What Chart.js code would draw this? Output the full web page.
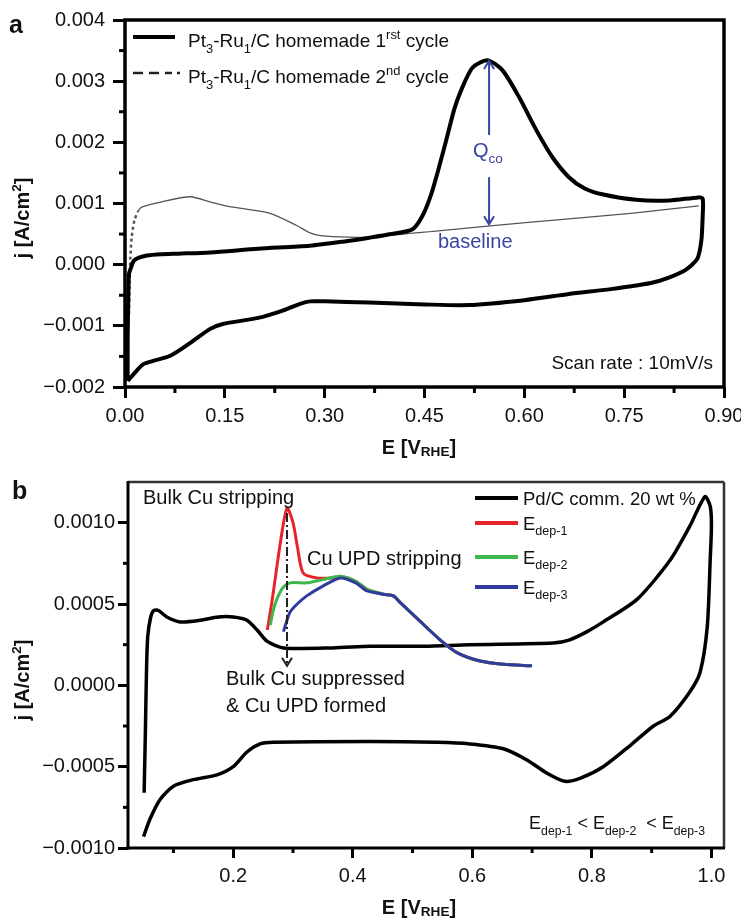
<!DOCTYPE html>
<html>
<head>
<meta charset="utf-8">
<script src="https://cdn.jsdelivr.net/npm/chart.js@4.4.1/dist/chart.umd.min.js"></script>
<style>
    body { margin: 0; background: #fff; }
    .wrap { position: relative; width: 741px; height: 920px; }
    canvas { position: absolute; left: 0; }
    #chartA { top: 0; }
    #chartB { top: 460px; }
</style>
</head>
<body>
<div class="wrap">
    <canvas id="chartA" width="741" height="460"></canvas>
    <canvas id="chartB" width="741" height="460"></canvas>
</div>
<script>
// ---- panel a : CO stripping on Pt3-Ru1/C ----
const cyc1E = [0.004, 0.004, 0.005, 0.006, 0.009, 0.013, 0.020, 0.033, 0.055, 0.080, 0.128, 0.200, 0.278, 0.330, 0.367,
    0.400, 0.432, 0.447, 0.460, 0.472, 0.483, 0.495, 0.505, 0.522, 0.545, 0.567, 0.592, 0.618, 0.642, 0.667, 0.690,
    0.717, 0.768, 0.818, 0.862, 0.868, 0.868, 0.866, 0.860, 0.843, 0.815, 0.790, 0.730, 0.667, 0.600, 0.517, 0.450,
    0.367, 0.300, 0.278, 0.263, 0.237, 0.200, 0.147, 0.128, 0.098, 0.068, 0.040, 0.027, 0.012, 0.004];
const cyc1J = [-0.00190, -0.00120, -0.00050, -0.00015, -0.00005, 0.00006, 0.00011, 0.00015, 0.00017, 0.00018, 0.00020,
    0.00026, 0.00031, 0.00038, 0.00044, 0.00050, 0.00058, 0.00080, 0.00115, 0.00160, 0.00205, 0.00255, 0.00285, 0.00322,
    0.00334, 0.00318, 0.00274, 0.00220, 0.00176, 0.00143, 0.00125, 0.00115, 0.00106, 0.00105, 0.00110, 0.00108, 0.00080,
    0.00040, 0.00010, -0.00008, -0.00022, -0.00030, -0.00040, -0.00048, -0.00058, -0.00066, -0.00065, -0.00062, -0.00060,
    -0.00060, -0.00064, -0.00075, -0.00087, -0.00097, -0.00105, -0.00128, -0.00149, -0.00158, -0.00163, -0.00180, -0.00190];

const cyc2E = [0.006, 0.007, 0.008, 0.010, 0.014, 0.020, 0.025, 0.052, 0.098, 0.130, 0.162, 0.218, 0.258, 0.278, 0.297,
    0.338, 0.367, 0.467, 0.545, 0.667, 0.760, 0.862];
const cyc2J = [-0.00080, -0.00030, 0.00010, 0.00044, 0.00072, 0.00088, 0.00094, 0.00102, 0.00111, 0.00102, 0.00094,
    0.00084, 0.00064, 0.00052, 0.00047, 0.00045, 0.00045, 0.00055, 0.00063, 0.00075, 0.00084, 0.00096];

const xTicksA = [0, 0.15, 0.30, 0.45, 0.60, 0.75, 0.90];
const yTicksA = [-0.002, -0.001, 0, 0.001, 0.002, 0.003, 0.004];
const xMinorA = [0.075, 0.225, 0.375, 0.525, 0.675, 0.825];
const yMinorA = [-0.0015, -0.0005, 0.0005, 0.0015, 0.0025, 0.0035];

// ---- panel b : Cu stripping on Pd/C ----
const pdE = [0.051, 0.053, 0.055, 0.057, 0.062, 0.067, 0.075, 0.089, 0.111, 0.145, 0.175, 0.200, 0.223, 0.240, 0.257,
    0.284, 0.367, 0.429, 0.520, 0.596, 0.735, 0.763, 0.792, 0.819, 0.876, 0.931, 0.964, 0.989, 0.998, 1.000, 0.998,
    0.993, 0.981, 0.964, 0.931, 0.903, 0.864, 0.819, 0.781, 0.755, 0.725, 0.692, 0.652, 0.596, 0.541, 0.429, 0.267,
    0.245, 0.223, 0.200, 0.173, 0.133, 0.100, 0.078, 0.061, 0.050];
const pdJ = [-0.00066, -0.00030, 0.00010, 0.00030, 0.00042, 0.00046, 0.00046, 0.00042, 0.00039, 0.00040, 0.00042, 0.00042,
    0.00040, 0.00034, 0.00027, 0.00023, 0.00023, 0.00024, 0.00024, 0.00025, 0.00026, 0.00028, 0.00033, 0.00039, 0.00053,
    0.00077, 0.00098, 0.00116, 0.00110, 0.00098, 0.00078, 0.00036, 0.00008, -0.00004, -0.00019, -0.00025, -0.00037,
    -0.00050, -0.00057, -0.00059, -0.00054, -0.00046, -0.00039, -0.00036, -0.00035, -0.000345, -0.00035, -0.00036,
    -0.00041, -0.00050, -0.00055, -0.00058, -0.00062, -0.00070, -0.00082, -0.00093];

const dep1E = [0.257, 0.262, 0.267, 0.279, 0.290, 0.300, 0.307, 0.317, 0.340, 0.367, 0.379, 0.405, 0.424, 0.451, 0.468,
    0.479, 0.508, 0.546, 0.575, 0.613, 0.652, 0.697];
const dep1J = [0.00034, 0.00045, 0.00057, 0.00088, 0.00109, 0.00100, 0.00086, 0.00069, 0.00066, 0.00066, 0.00067, 0.00064,
    0.00059, 0.00056, 0.00055, 0.00051, 0.00041, 0.00028, 0.00020, 0.00015, 0.00013, 0.00012];

const dep2E = [0.262, 0.267, 0.273, 0.283, 0.295, 0.323, 0.350, 0.379, 0.405, 0.424, 0.451, 0.468, 0.479, 0.508, 0.546,
    0.575, 0.613, 0.652, 0.698];
const dep2J = [0.00037, 0.00046, 0.00053, 0.00060, 0.00063, 0.00063, 0.00065, 0.00067, 0.00064, 0.00059, 0.00056, 0.00055,
    0.00051, 0.00041, 0.00028, 0.00020, 0.00015, 0.00013, 0.00012];

const dep3E = [0.284, 0.290, 0.295, 0.307, 0.323, 0.350, 0.379, 0.405, 0.424, 0.451, 0.468, 0.479, 0.508, 0.546, 0.575,
    0.613, 0.652, 0.700];
const dep3J = [0.00033, 0.00040, 0.00045, 0.00050, 0.00055, 0.00061, 0.00066, 0.00063, 0.00058, 0.00056, 0.00055, 0.00051,
    0.00041, 0.00028, 0.00020, 0.00015, 0.00013, 0.00012];

const xTicksB = [0.2, 0.4, 0.6, 0.8, 1.0];
const yTicksB = [-0.0010, -0.0005, 0, 0.0005, 0.0010];
const xMinorB = [0.1, 0.3, 0.5, 0.7, 0.9];
const yMinorB = [-0.00075, -0.00025, 0.00025, 0.00075];

const FONT = "'Liberation Sans', Arial, Helvetica, sans-serif";
const INK = "#111";
const BLUE = "#3a45a3";

const pts = (xs, ys) => xs.map((x, i) => ({ x: x, y: ys[i] }));
const minus = s => s.replace("-", "\u2212");

// text with sub/superscripts; y is the middle of the capitals
// kinds: "" normal, "sub", "sup", "lsub" (subscript only slightly lowered)
function drawRich(ctx, x, y, parts, size, opts = {}) {
    const weight = opts.bold ? "bold " : "";
    const small = size * 0.68;
    let w = 0;
    parts.forEach(([t, k]) => {
        ctx.font = weight + (k ? small : size) + "px " + FONT;
        w += ctx.measureText(t).width;
    });
    let cx = opts.align === "center" ? x - w / 2 : opts.align === "right" ? x - w : x;
    const base = y + size * 0.36;
    ctx.save();
    ctx.fillStyle = opts.color || INK;
    ctx.textAlign = "left";
    ctx.textBaseline = "alphabetic";
    parts.forEach(([t, k]) => {
        ctx.font = weight + (k ? small : size) + "px " + FONT;
        const dy = k === "sub" ? size * 0.3 : k === "lsub" ? size * 0.1 : k === "sup" ? -size * 0.42 : 0;
        ctx.fillText(t, cx, base + dy);
        cx += ctx.measureText(t).width;
    });
    ctx.restore();
}

function line(ctx, x1, y1, x2, y2, color, width, dash) {
    ctx.save();
    ctx.strokeStyle = color;
    ctx.lineWidth = width;
    ctx.setLineDash(dash || []);
    ctx.beginPath();
    ctx.moveTo(x1, y1);
    ctx.lineTo(x2, y2);
    ctx.stroke();
    ctx.restore();
}

function minorTicks(chart, xs, ys, len, width) {
    const { ctx, chartArea: a } = chart;
    xs.forEach(v => {
        const p = chart.scales.x.getPixelForValue(v);
        line(ctx, p, a.bottom, p, a.bottom + len, "#000", width);
    });
    ys.forEach(v => {
        const p = chart.scales.y.getPixelForValue(v);
        line(ctx, a.left - len, p, a.left, p, "#000", width);
    });
}

function axisTitles(chart, yCenter) {
    const { ctx } = chart;
    ctx.save();
    ctx.translate(22, yCenter);
    ctx.rotate(-Math.PI / 2);
    drawRich(ctx, 0, 0, [["j [A/cm", ""], ["2", "sup"], ["]", ""]], 20, { bold: true, align: "center" });
    ctx.restore();
    drawRich(ctx, 419, 447, [["E [V", ""], ["RHE", "lsub"], ["]", ""]], 20, { bold: true, align: "center" });
}

function arrowHead(ctx, x, y, dir, color) {
    ctx.save();
    ctx.strokeStyle = color;
    ctx.lineWidth = 2;
    ctx.beginPath();
    ctx.moveTo(x - 5, y - dir * 8);
    ctx.lineTo(x, y);
    ctx.lineTo(x + 5, y - dir * 8);
    ctx.stroke();
    ctx.restore();
}

const baseScale = (min, max, ticks, fmt, tickLen, pad) => ({
    type: "linear",
    min: min,
    max: max,
    afterBuildTicks: s => { s.ticks = ticks.map(v => ({ value: v })); },
    ticks: { callback: fmt, color: INK, font: { family: FONT, size: 20 }, padding: pad },
    grid: { drawOnChartArea: false, tickLength: tickLen, tickWidth: 3, tickColor: "#000" },
    border: { display: false }
});

// ------------------------------------------------------------ chart a
const decorA = {
    id: "decorA",
    beforeDraw(chart) {
        chart.ctx.save();
        chart.ctx.fillStyle = "#fff";
        chart.ctx.fillRect(0, 0, chart.width, chart.height);
        chart.ctx.restore();
    },
    afterDraw(chart) {
        const { ctx, chartArea: a, scales: { x, y } } = chart;
        ctx.save();
        ctx.strokeStyle = "#000";
        ctx.lineWidth = 3.5;
        ctx.strokeRect(a.left, a.top, a.right - a.left, a.bottom - a.top);
        ctx.restore();
        minorTicks(chart, xMinorA, yMinorA, 6, 3);
        axisTitles(chart, 218);
        drawRich(ctx, 9, 24, [["a", ""]], 25, { bold: true });

        // legend
        line(ctx, 133, 37, 175, 37, "#000", 4);
        drawRich(ctx, 188, 40, [["Pt", ""], ["3", "sub"], ["-Ru", ""], ["1", "sub"], ["/C homemade 1", ""], ["rst", "sup"], [" cycle", ""]], 19);
        line(ctx, 133, 73, 172, 73, "#222", 2.5, [10, 6]);
        line(ctx, 177, 73, 180, 73, "#222", 2.5);
        drawRich(ctx, 188, 76, [["Pt", ""], ["3", "sub"], ["-Ru", ""], ["1", "sub"], ["/C homemade 2", ""], ["nd", "sup"], [" cycle", ""]], 19);

        // Q_CO arrow
        const px = x.getPixelForValue(0.547);
        const yTop = y.getPixelForValue(0.00333);
        const yBot = y.getPixelForValue(0.00066);
        line(ctx, px, yTop, px, y.getPixelForValue(0.00212), BLUE, 2);
        line(ctx, px, y.getPixelForValue(0.00143), px, yBot, BLUE, 2);
        arrowHead(ctx, px, yTop, -1, BLUE);
        arrowHead(ctx, px, yBot, 1, BLUE);
        drawRich(ctx, 473, 150, [["Q", ""], ["co", "sub"]], 20, { color: BLUE });
        drawRich(ctx, 438, 241, [["baseline", ""]], 20, { color: BLUE });
        drawRich(ctx, 713, 362, [["Scan rate : 10mV/s", ""]], 19, { align: "right" });
    }
};

new Chart(document.getElementById("chartA"), {
    type: "scatter",
    data: {
        datasets: [
            {
                label: "1st cycle",
                data: pts(cyc1E, cyc1J),
                showLine: true,
                borderColor: "#000",
                borderWidth: 4,
                tension: 0.25,
                pointRadius: 0,
                order: 1
            },
            {
                label: "2nd cycle",
                data: pts(cyc2E, cyc2J),
                showLine: true,
                borderColor: "#555",
                borderWidth: 1.3,
                tension: 0.25,
                pointRadius: 0,
                order: 2,
                segment: { borderDash: c => c.p0DataIndex < 5 ? [3, 3] : undefined, borderWidth: c => c.p0DataIndex < 5 ? 2.5 : 1.3 }
            }
        ]
    },
    options: {
        responsive: false,
        animation: false,
        devicePixelRatio: 1,
        layout: { padding: { left: 0, right: 17, top: 20, bottom: 0 } },
        plugins: { legend: { display: false }, tooltip: { enabled: false } },
        scales: {
            x: Object.assign(baseScale(0, 0.9, xTicksA, v => v.toFixed(2), 11, 6), {
                afterFit: s => { s.height = 73; s.paddingLeft = 0; s.paddingRight = 0; }
            }),
            y: Object.assign(baseScale(-0.002, 0.004, yTicksA, v => minus(v.toFixed(3)), 12, 8), {
                afterFit: s => { s.width = 125; s.paddingTop = 0; s.paddingBottom = 0; }
            })
        }
    },
    plugins: [decorA]
});

// ------------------------------------------------------------ chart b
const decorB = {
    id: "decorB",
    beforeDraw(chart) {
        chart.ctx.save();
        chart.ctx.fillStyle = "#fff";
        chart.ctx.fillRect(0, 0, chart.width, chart.height);
        chart.ctx.restore();
    },
    afterDraw(chart) {
        const { ctx, chartArea: a, scales: { x, y } } = chart;
        line(ctx, a.left, a.top, a.right, a.top, "#333", 2.5);
        line(ctx, a.right, a.top, a.right, a.bottom, "#333", 2.5);
        line(ctx, a.left, a.top - 1, a.left, a.bottom + 1.5, "#000", 3);
        line(ctx, a.left - 1.5, a.bottom, a.right + 1, a.bottom, "#000", 3);
        minorTicks(chart, xMinorB, yMinorB, 5, 3);
        axisTitles(chart, 220);
        drawRich(ctx, 12, 30, [["b", ""]], 25, { bold: true });

        // legend
        const rows = [
            [38, "#000", [["Pd/C comm. 20 wt %", ""]]],
            [63, "#e8242b", [["E", ""], ["dep-1", "sub"]]],
            [97, "#3fb84b", [["E", ""], ["dep-2", "sub"]]],
            [127, "#2f3c9c", [["E", ""], ["dep-3", "sub"]]]
        ];
        rows.forEach(([ry, col, parts]) => {
            line(ctx, 475, ry, 518, ry, col, 4);
            drawRich(ctx, 523, ry, parts, 18.5);
        });

        // dash-dot marker of bulk Cu peak
        const px = x.getPixelForValue(0.290);
        const yTip = y.getPixelForValue(0.00012);
        line(ctx, px, y.getPixelForValue(0.00106), px, yTip, "#222", 2, [9, 3, 2, 3]);
        arrowHead(ctx, px, yTip, 1, "#222");

        drawRich(ctx, 143, 37, [["Bulk Cu stripping", ""]], 20);
        drawRich(ctx, 307, 98, [["Cu UPD stripping", ""]], 20);
        drawRich(ctx, 226, 218, [["Bulk Cu suppressed", ""]], 20);
        drawRich(ctx, 226, 245, [["& Cu UPD formed", ""]], 20);
        drawRich(ctx, 705, 363, [["E", ""], ["dep-1", "sub"], [" < E", ""], ["dep-2", "sub"], ["  < E", ""], ["dep-3", "sub"]], 18, { align: "right" });
    }
};

const cvLine = (label, xs, ys, color, width, order) => ({
    label: label,
    data: pts(xs, ys),
    showLine: true,
    borderColor: color,
    borderWidth: width,
    tension: 0.25,
    pointRadius: 0,
    order: order
});

new Chart(document.getElementById("chartB"), {
    type: "scatter",
    data: {
        datasets: [
            cvLine("Pd/C comm. 20 wt %", pdE, pdJ, "#000", 3.5, 4),
            cvLine("Edep-1", dep1E, dep1J, "#e8242b", 3, 3),
            cvLine("Edep-2", dep2E, dep2J, "#3fb84b", 3, 2),
            cvLine("Edep-3", dep3E, dep3J, "#2f3c9c", 3, 1)
        ]
    },
    options: {
        responsive: false,
        animation: false,
        devicePixelRatio: 1,
        layout: { padding: { left: 0, right: 17, top: 22, bottom: 0 } },
        plugins: { legend: { display: false }, tooltip: { enabled: false } },
        scales: {
            x: Object.assign(baseScale(0.024, 1.021, xTicksB, v => v.toFixed(1), 10, 6), {
                afterFit: s => { s.height = 72; s.paddingLeft = 0; s.paddingRight = 0; }
            }),
            y: Object.assign(baseScale(-0.0010, 0.00125, yTicksB, v => minus(v.toFixed(4)), 10, 3), {
                afterFit: s => { s.width = 128; s.paddingTop = 0; s.paddingBottom = 0; }
            })
        }
    },
    plugins: [decorB]
});
</script>
</body>
</html>
